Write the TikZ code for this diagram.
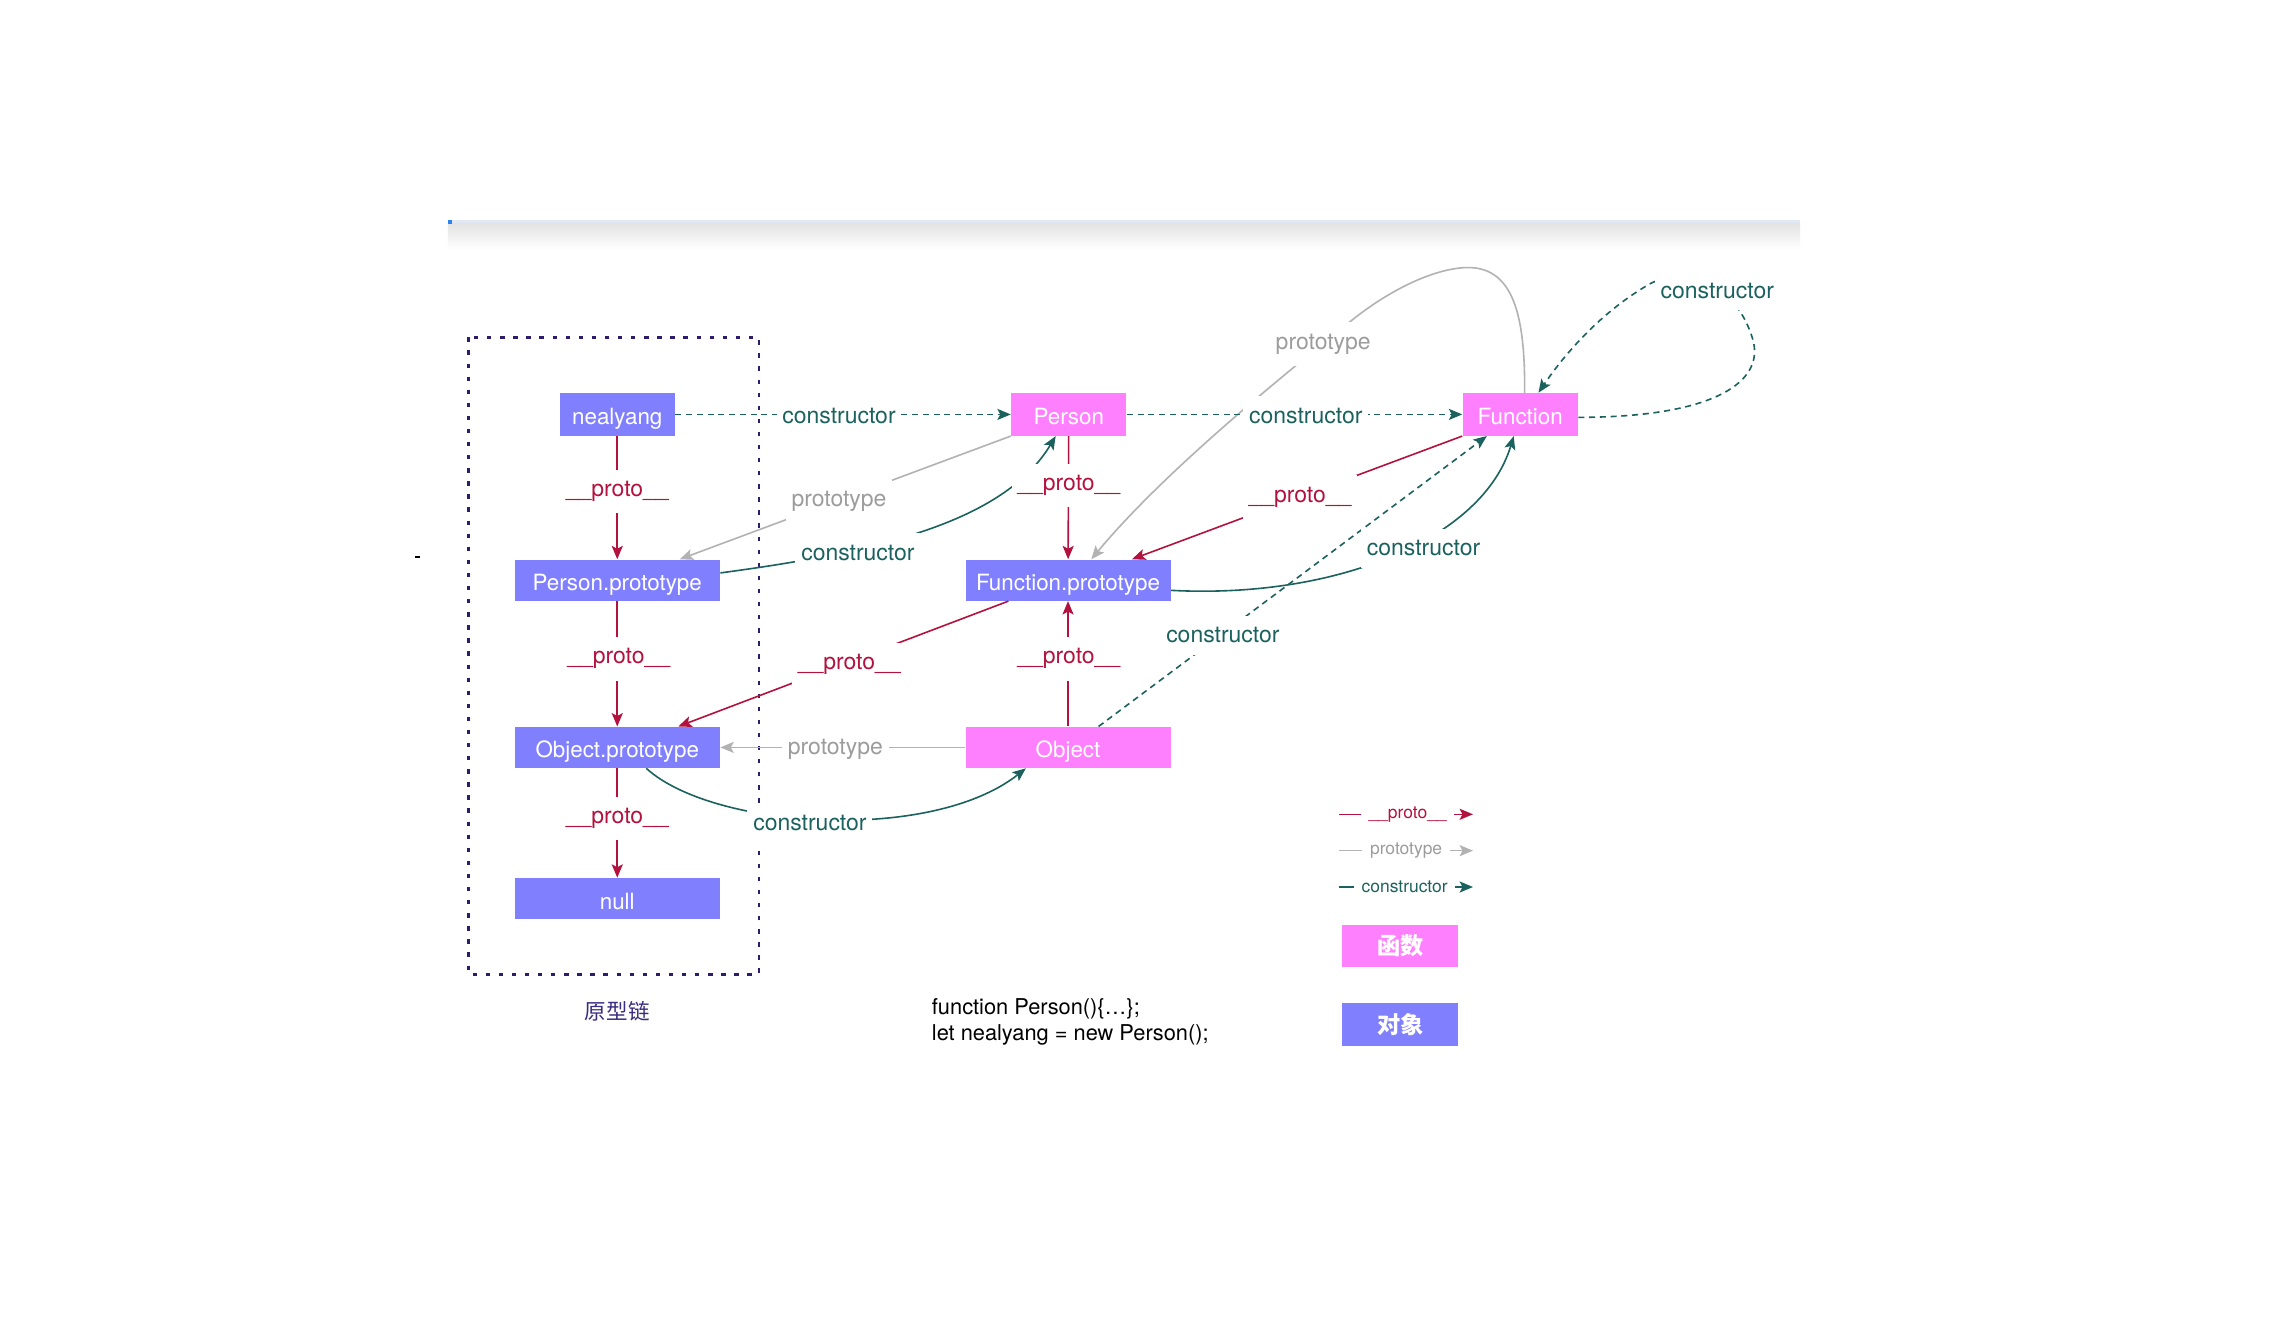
\documentclass[tikz,border=0pt]{standalone}
\usepackage{fontspec}
\setmainfont{TeX Gyre Heros}
\newfontfamily\cjkfont{Noto Sans CJK SC}
\usetikzlibrary{arrows.meta,calc}

\definecolor{objblue}{HTML}{8080FF}
\definecolor{fnpink}{HTML}{FF80FF}
\definecolor{protored}{HTML}{B3123E}
\definecolor{ctorteal}{HTML}{1B625E}
\definecolor{protogray}{HTML}{B2B2B2}
\definecolor{protogreytext}{HTML}{9C9C9C}
\definecolor{chainviolet}{HTML}{2E1B6E}
\definecolor{chaintext}{HTML}{3A2E80}
\definecolor{barline}{HTML}{E2E8F3}
\definecolor{markblue}{HTML}{2F80F0}

\tikzset{
  box/.style={inner sep=0pt, text=white, font=\fontsize{7.7}{9}\selectfont,
    text height=0.72em, text depth=0pt},
  smallbox/.style={box, minimum width=39.5pt, minimum height=14.5pt},
  widebox/.style={box, minimum width=70.5pt, minimum height=14pt},
  objsmall/.style={smallbox, fill=objblue},
  objwide/.style={widebox, fill=objblue},
  fnsmall/.style={smallbox, fill=fnpink},
  fnwide/.style={widebox, fill=fnpink},
  keybox/.style={inner sep=0pt, text=white, minimum width=40pt, minimum height=14.5pt,
    font=\cjkfont\bfseries\fontsize{8}{9}\selectfont},
  lbl/.style={fill=white, inner xsep=2pt, inner ysep=4pt,
    font=\fontsize{7.9}{9}\selectfont},
  protolbl/.style={lbl, text=protored},
  typelbl/.style={lbl, text=protogreytext},
  ctorlbl/.style={lbl, text=ctorteal},
  keylbl/.style={fill=white, inner xsep=2.6pt, inner ysep=2.5pt,
    font=\fontsize{6}{7}\selectfont},
  tipped/.style={-{Stealth[length=4.6pt,width=3.8pt,inset=1pt]}},
  protoedge/.style={draw=protored, line width=0.55pt, tipped, color=protored},
  typeedge/.style={draw=protogray, line width=0.55pt, tipped, color=protogray},
  ctoredge/.style={draw=ctorteal, line width=0.55pt, tipped, color=ctorteal},
  ctordash/.style={ctoredge, dash pattern=on 2.1pt off 1.6pt},
}

\begin{document}
\begin{tikzpicture}[x=0.5pt, y=-0.5pt]
  \useasboundingbox[fill=white] (0,0) rectangle (1568,921.5);

  % page header strip with its soft shadow
  \fill[barline] (308,151) rectangle (1238,153.5);
  \shade[top color=black!11, bottom color=white] (308,153.5) rectangle (1238,172);
  \fill[markblue] (308,151) rectangle (311,154);
  \draw[black, line width=0.8pt] (285.5,383) -- (288.5,383);

  % prototype chain frame
  \draw[chainviolet, line width=0.9pt, dash pattern=on 1.5pt off 3pt]
    (322,232) rectangle (522,670);
  \node[text=chaintext, font=\cjkfont\fontsize{7.4}{9}\selectfont] (chaincap) at (424.5,695.5) {原型链};

  % objects and functions
  \node[objsmall] (nealyang) at (424.5,285) {nealyang};
  \node[fnsmall]  (person)   at (735,285)   {Person};
  \node[fnsmall]  (function) at (1045.5,285) {Function};
  \node[objwide]  (pp)       at (424.5,399) {Person.prototype};
  \node[objwide]  (fp)       at (734.5,399) {Function.prototype};
  \node[objwide]  (op)       at (424.5,514) {Object.prototype};
  \node[fnwide]   (object)   at (734.5,514) {Object};
  \node[objwide]  (nul)      at (424.5,618) {null};

  % __proto__ links
  \draw[protoedge] (nealyang) -- (pp);
  \draw[protoedge] (pp) -- (op);
  \draw[protoedge] (op) -- (nul);
  \draw[protoedge] (person) -- (fp);
  \draw[protoedge] (object) -- (fp);
  \draw[protoedge] (function.south west) -- ($(fp.north)+(44,0)$);
  \draw[protoedge] ($(fp.south)+(-41,0)$) -- ($(op.north)+(42,0)$);

  % prototype links
  \draw[typeedge] (person.south west) -- ($(pp.north)+(43,0)$);
  \draw[typeedge] (object.west) -- (op.east);
  \draw[typeedge] ($(function.north)+(3,0)$)
    .. controls (1049,215) and (1040,183) .. (1008,184)
    .. controls (985,185) and (955,200) .. (930,220)
    .. controls (880,260) and (800,325) .. ($(fp.north)+(16,0)$);

  % constructor links
  \draw[ctordash] (nealyang) -- (person);
  \draw[ctordash] (person) -- (function);
  \draw[ctoredge] ($(pp.east)+(0,-5)$)
    .. controls (600,380) and (690,360) .. ($(person.south)+(-9,0)$);
  \draw[ctoredge] ($(fp.east)+(0,7)$)
    .. controls (920,412) and (1020,370) .. ($(function.south)+(-4.5,0)$);
  \draw[ctoredge] ($(op.south)+(20,0)$)
    .. controls (490,570) and (640,580) .. ($(object.south)+(-29,0)$);
  \draw[ctordash] ($(object.north)+(21,0)$) -- ($(function.south)+(-23,0)$);
  \draw[ctordash] ($(function.east)+(0,2)$)
    .. controls (1180,287) and (1215,262) .. (1205,232)
    .. controls (1195,200) and (1165,180) .. (1135,195)
    .. controls (1100,215) and (1075,245) .. ($(function.north)+(12.5,0)$);

  % link labels
  \node[protolbl] (l1) at (424.5,338) {\_\_proto\_\_};
  \node[protolbl] (l2) at (425.5,453) {\_\_proto\_\_};
  \node[protolbl] (l3) at (424.5,563) {\_\_proto\_\_};
  \node[protolbl] (l4) at (735,334)   {\_\_proto\_\_};
  \node[protolbl] (l5) at (735,453)   {\_\_proto\_\_};
  \node[protolbl] (l6) at (894,342)   {\_\_proto\_\_};
  \node[protolbl] (l7) at (584,457)   {\_\_proto\_\_};

  \node[typelbl] (t1) at (577,344.5) {prototype};
  \node[typelbl] (t2) at (910,236.5) {prototype};
  \node[typelbl] (t3) at (574.5,515.5) {prototype};

  \node[ctorlbl] (c1) at (577,286)  {constructor};
  \node[ctorlbl] (c2) at (898,286)  {constructor};
  \node[ctorlbl] (c3) at (590,380)  {constructor};
  \node[ctorlbl] (c4) at (979,377)  {constructor};
  \node[ctorlbl] (c5) at (841,437)  {constructor};
  \node[ctorlbl] (c6) at (557,566)  {constructor};
  \node[ctorlbl] (c7) at (1181,200) {constructor};

  % key
  \coordinate (k1a) at (921,560); \coordinate (k1b) at (1013,560);
  \coordinate (k2a) at (921,585); \coordinate (k2b) at (1013,585);
  \coordinate (k3a) at (921,610); \coordinate (k3b) at (1013,610);
  \draw[protoedge] (k1a) -- (k1b) node[midway, keylbl, text=protored, xshift=0.5pt] {\_\_proto\_\_};
  \draw[typeedge]  (k2a) -- (k2b) node[midway, keylbl, text=protogreytext] {prototype};
  \draw[ctoredge]  (k3a) -- (k3b) node[midway, keylbl, text=ctorteal, xshift=-0.5pt] {constructor};
  \node[keybox, fill=fnpink]  (kfn)  at (963,650.5) {函数};
  \node[keybox, fill=objblue] (kobj) at (963,704.5) {对象};

  % source snippet
  \node[anchor=west, align=left, inner sep=0pt, font=\fontsize{7.5}{9}\selectfont] (code)
    at (640.5,703) {function Person()\{…\};\\let nealyang = new Person();};
\end{tikzpicture}
\end{document}
